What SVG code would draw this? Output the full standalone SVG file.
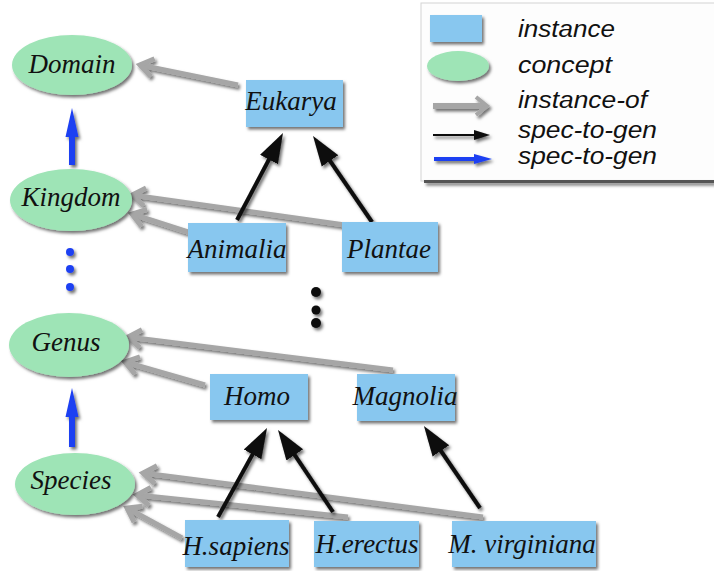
<svg xmlns="http://www.w3.org/2000/svg" width="714" height="571" viewBox="0 0 714 571">
<style>
.inst{fill:#88c7ef;}
.conc{fill:#9ee4b6;}
.lbl{font-family:"Liberation Serif","Times New Roman",serif;font-style:italic;font-size:27px;fill:#111;text-anchor:middle;}
.leg{font-family:"Liberation Sans",Arial,sans-serif;font-style:italic;font-size:23px;fill:#111;}
.io{stroke:#a6a6a6;stroke-width:5;fill:none;marker-end:url(#chev);}
.sg{stroke:#0a0a0a;stroke-width:4;fill:none;marker-end:url(#tri);}
.sh{filter:url(#ds);}
</style>
<defs>
<filter id="ds" filterUnits="userSpaceOnUse" x="0" y="0" width="714" height="571">
<feDropShadow dx="2" dy="2.5" stdDeviation="1.5" flood-color="#000" flood-opacity="0.55"/>
</filter>
<marker id="chev" markerUnits="userSpaceOnUse" viewBox="-18 -14 24 28" refX="0" refY="0" markerWidth="24" markerHeight="28" orient="auto">
<path d="M-13,-9 L0,0 L-13,9" fill="none" stroke="#a6a6a6" stroke-width="5"/>
</marker>
<marker id="tri" markerUnits="userSpaceOnUse" viewBox="0 -11 31 22" refX="20" refY="0" markerWidth="31" markerHeight="22" orient="auto">
<path d="M0,-10 L30,0 L0,10 z" fill="#0a0a0a"/>
</marker>
</defs>
<rect width="714" height="571" fill="#fff"/>

<g id="legend">
<rect x="421" y="3" width="295" height="178" fill="#fdfdfd" stroke="#d4d4d4" stroke-width="1"/>
<rect x="424" y="180" width="290" height="3" fill="#555" class="sh"/>
<rect x="430" y="15" width="52" height="27" class="inst sh"/>
<ellipse cx="458" cy="66" rx="31" ry="15" class="conc sh"/>
<g class="sh">
<line x1="433" y1="106" x2="485" y2="106" stroke="#a6a6a6" stroke-width="6"/>
<path d="M476,97 L487,106 L476,115" fill="none" stroke="#a6a6a6" stroke-width="4"/>
</g>
<g class="sh">
<line x1="433" y1="135" x2="476" y2="135" stroke="#0a0a0a" stroke-width="2"/>
<path d="M474,130 L490,135 L474,140 z" fill="#0a0a0a"/>
</g>
<g class="sh">
<line x1="434" y1="159" x2="476" y2="159" stroke="#1f3ff2" stroke-width="4"/>
<path d="M474,154 L492,159 L474,164 z" fill="#1f3ff2"/>
</g>
<text x="518" y="37" class="leg" textLength="97" lengthAdjust="spacingAndGlyphs">instance</text>
<text x="518" y="73" class="leg" textLength="94" lengthAdjust="spacingAndGlyphs">concept</text>
<text x="518" y="108" class="leg" textLength="129" lengthAdjust="spacingAndGlyphs">instance-of</text>
<text x="518" y="138" class="leg" textLength="139" lengthAdjust="spacingAndGlyphs">spec-to-gen</text>
<text x="518" y="164" class="leg" textLength="139" lengthAdjust="spacingAndGlyphs">spec-to-gen</text>
</g>

<g id="connectors">
<g class="sh">
<line x1="238" y1="85" x2="140" y2="65" class="io"/>
<line x1="188" y1="232" x2="132" y2="214" class="io"/>
<line x1="345" y1="225" x2="132" y2="195" class="io"/>
<line x1="393" y1="370" x2="128" y2="337" class="io"/>
<line x1="205" y1="385" x2="125" y2="362" class="io"/>
<line x1="182" y1="538" x2="127" y2="508" class="io"/>
<line x1="348" y1="517" x2="137" y2="495" class="io"/>
<line x1="483" y1="517" x2="143" y2="473" class="io"/>
</g>
<g class="sh">
<line x1="237" y1="220" x2="278.3" y2="141.8" class="sg"/>
<line x1="372" y1="222" x2="318.7" y2="144.3" class="sg"/>
<line x1="218" y1="517" x2="262.2" y2="436.8" class="sg"/>
<line x1="333" y1="512" x2="283.6" y2="438.3" class="sg"/>
<line x1="480" y1="508" x2="429.6" y2="434.3" class="sg"/>
</g>
<g class="sh" fill="#1f3ff2">
<path d="M69,165 L69,137 L65.5,137 L72,108 L78.5,137 L75,137 L75,165 z"/>
<path d="M69,447 L69,417 L65.5,417 L72,388 L78.5,417 L75,417 L75,447 z"/>
</g>
</g>

<g id="dots" class="sh">
<circle cx="70" cy="252" r="4" fill="#1f3ff2"/>
<circle cx="70" cy="269" r="4" fill="#1f3ff2"/>
<circle cx="70" cy="287" r="4" fill="#1f3ff2"/>
<circle cx="316" cy="292" r="5" fill="#0a0a0a"/>
<circle cx="316" cy="310" r="4.5" fill="#0a0a0a"/>
<circle cx="316" cy="323" r="5" fill="#0a0a0a"/>
</g>

<g id="domain"><ellipse cx="72" cy="65" rx="60" ry="30" class="conc sh"/><text x="72" y="73" class="lbl">Domain</text></g>
<g id="kingdom"><ellipse cx="71" cy="200" rx="61" ry="31" class="conc sh"/><text x="71" y="206" class="lbl">Kingdom</text></g>
<g id="genus"><ellipse cx="69" cy="345" rx="60" ry="32" class="conc sh"/><text x="66" y="351" class="lbl">Genus</text></g>
<g id="species"><ellipse cx="75" cy="484" rx="60" ry="31" class="conc sh"/><text x="71" y="489" class="lbl">Species</text></g>

<g id="eukarya"><rect x="246" y="80" width="97" height="47" class="inst sh"/><text x="291" y="110" class="lbl">Eukarya</text></g>
<g id="animalia"><rect x="188" y="223" width="98" height="49" class="inst sh"/><text x="237" y="258" class="lbl">Animalia</text></g>
<g id="plantae"><rect x="342" y="222" width="96" height="50" class="inst sh"/><text x="389" y="258" class="lbl">Plantae</text></g>
<g id="homo"><rect x="210" y="374" width="98" height="46" class="inst sh"/><text x="257" y="405" class="lbl">Homo</text></g>
<g id="magnolia"><rect x="357" y="374" width="98" height="47" class="inst sh"/><text x="405" y="405" class="lbl">Magnolia</text></g>
<g id="hsapiens"><rect x="185" y="520" width="104" height="47" class="inst sh"/><text x="236" y="555" class="lbl">H.sapiens</text></g>
<g id="herectus"><rect x="314" y="521" width="105" height="46" class="inst sh"/><text x="367" y="553" class="lbl">H.erectus</text></g>
<g id="mvirginiana"><rect x="452" y="521" width="144" height="46" class="inst sh"/><text x="522" y="553" class="lbl">M. virginiana</text></g>
</svg>
